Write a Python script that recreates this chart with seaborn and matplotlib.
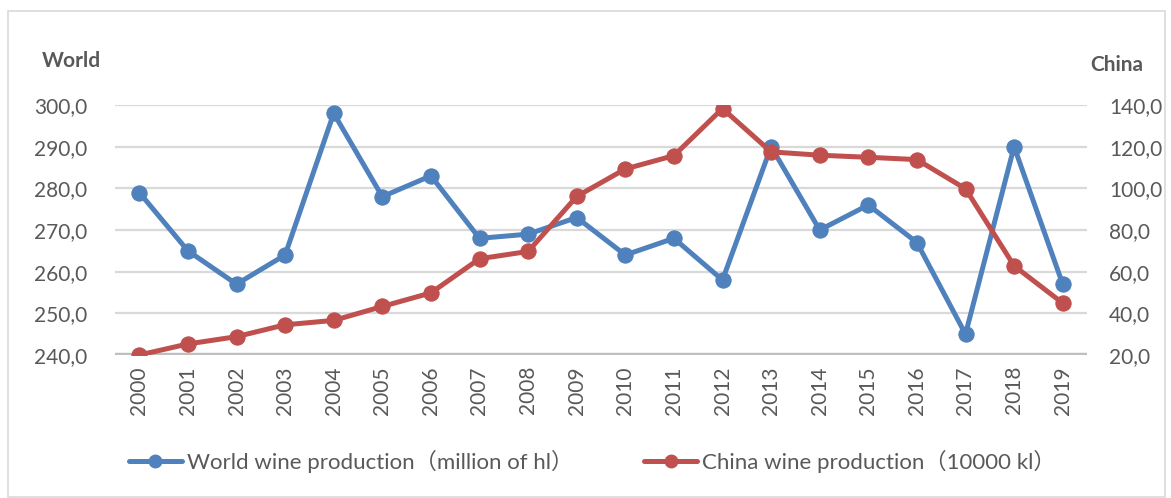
import matplotlib
matplotlib.use("Agg")
import matplotlib.pyplot as plt
import seaborn as sns
import pandas as pd
from matplotlib.patches import Rectangle

years = [str(y) for y in range(2000, 2020)]
world = [279, 265, 257, 264, 298, 278, 283, 268, 269, 273,
         264, 268, 258, 290, 270, 276, 267, 245, 290, 257]
china = [20.0, 25.3, 28.8, 34.5, 36.6, 43.3, 49.8, 66.2, 69.7, 96.1,
         109.3, 115.7, 138.3, 117.5, 115.9, 114.9, 113.8, 99.8, 62.8, 44.9]
world_ticks = [240, 250, 260, 270, 280, 290, 300]
china_ticks = [20, 40, 60, 80, 100, 120, 140]
world_label = "World wine production（million of hl）"
china_label = "China wine production（10000 kl）"

sns.set_theme(style="white")
plt.rcParams["font.family"] = ["Lato", "Noto Sans CJK SC", "DejaVu Sans"]

BLUE = "#4F81BD"
RED = "#C0504D"
TXT = "#595959"

df = pd.DataFrame({"idx": range(len(years)), "world": world, "china": china})

fig = plt.figure(figsize=(11.71, 4.98), dpi=100)
ax = fig.add_axes([115 / 1171, 1 - 355 / 498, (1087 - 115) / 1171, (355 - 105) / 498])
ax2 = ax.twinx()

# horizontal gridlines (drawn behind the series)
for v in world_ticks[1:]:
    ax.axhline(v, color="#D9D9D9", lw=1.6, zorder=0)
ax.axhline(world_ticks[0], color="#BFBFBF", lw=3.2, zorder=0)

sns.lineplot(data=df, x="idx", y="world", ax=ax, color=BLUE, lw=3.6,
             marker="o", markersize=11, markeredgecolor=BLUE, zorder=3, legend=False)
sns.lineplot(data=df, x="idx", y="china", ax=ax2, color=RED, lw=3.6,
             marker="o", markersize=11, markeredgecolor=RED, zorder=3, legend=False)

ax.set_xlim(-0.5, len(years) - 0.5)
ax.set_ylim(world_ticks[0], world_ticks[-1])
ax2.set_ylim(china_ticks[0], china_ticks[-1])
ax.set_xticks(range(len(years)))
ax.set_xticklabels(years, rotation=90, fontsize=15, color=TXT)
ax.set_yticks(world_ticks)
ax.set_yticklabels([f"{v:.1f}".replace(".", ",") for v in world_ticks], fontsize=15, color=TXT)
ax2.set_yticks(china_ticks)
ax2.set_yticklabels([f"{v:.1f}".replace(".", ",") for v in china_ticks], fontsize=15, color=TXT)
ax.tick_params(axis="x", length=0, pad=8)
ax.tick_params(axis="y", length=0, pad=20)
ax2.tick_params(axis="y", length=0, pad=16)
ax.set_xlabel("")
ax.set_ylabel("")
ax2.set_ylabel("")
for a in (ax, ax2):
    for s in a.spines.values():
        s.set_visible(False)
    a.grid(False)
ax2.set_zorder(ax.get_zorder() + 1)
ax.patch.set_visible(False)

fig.text(42 / 1171, 1 - 61 / 498, "World", fontsize=15, fontweight="bold",
         color=TXT, va="center", ha="left")
fig.text(1090 / 1171, 1 - 65 / 498, "China", fontsize=15, fontweight="bold",
         color=TXT, va="center", ha="left")

handles = [plt.Line2D([], [], color=BLUE, lw=3.6, marker="o", markersize=9),
           plt.Line2D([], [], color=RED, lw=3.6, marker="o", markersize=9)]
leg = fig.legend(handles, [world_label, china_label], loc="center",
                 bbox_to_anchor=(592 / 1171, 1 - 461 / 498), ncol=2, frameon=False,
                 fontsize=16, handlelength=2.4, handletextpad=0.2, columnspacing=3.2)
for t in leg.get_texts():
    t.set_color(TXT)

fig.patches.append(Rectangle((8 / 1171, 1 - 497 / 498), 1157 / 1171, 486 / 498,
                             transform=fig.transFigure, fill=False,
                             edgecolor="#D9D9D9", lw=1.2))

fig.savefig("out.png", dpi=100)
